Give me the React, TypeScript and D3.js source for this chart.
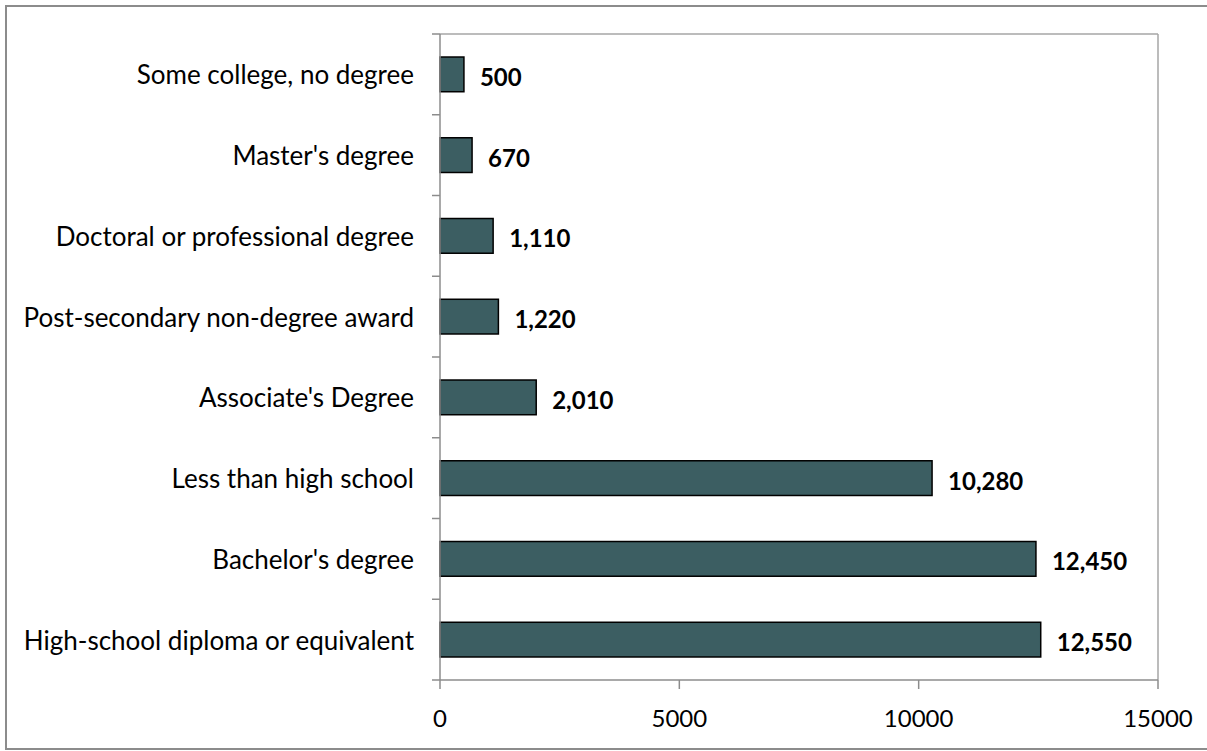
import React from "react";
import * as d3 from "d3";

const categories = [
  "Some college, no degree",
  "Master's degree",
  "Doctoral or professional degree",
  "Post-secondary non-degree award",
  "Associate's Degree",
  "Less than high school",
  "Bachelor's degree",
  "High-school diploma or equivalent",
];
const values = [500, 670, 1110, 1220, 2010, 10280, 12450, 12550];
const xTicks = [0, 5000, 10000, 15000];

const W = 1207;
const H = 751;
const left = 440;
const right = 1158;
const top = 34;
const bottom = 680;
const FONT = "Lato, 'Open Sans', sans-serif";

export default function App() {
  const x = d3.scaleLinear().domain([0, 15000]).range([left, right]);
  const y = d3
    .scaleBand<string>()
    .domain(categories)
    .range([top, bottom])
    .paddingInner(0.57)
    .paddingOuter(0.285);
  const band = (bottom - top) / categories.length;
  const fmt = d3.format(",");
  const axisColor = "#8c8c8c";

  return (
    <svg
      width={W}
      height={H}
      style={{ position: "absolute", left: 0, top: 0, background: "#fff" }}
    >
      <rect x={6} y={6} width={1215} height={743} fill="#fff" stroke="#8c8c8c" strokeWidth={2} />
      {/* plot area border */}
      <line x1={left} x2={right} y1={top} y2={top} stroke="#a6a6a6" strokeWidth={1.5} />
      <line x1={right} x2={right} y1={top} y2={bottom} stroke="#a6a6a6" strokeWidth={1.5} />
      {/* bars */}
      {categories.map((c, i) => (
        <rect
          key={c}
          x={x(0)}
          y={y(c)!}
          width={x(values[i]) - x(0)}
          height={y.bandwidth()}
          fill="#3c5e62"
          stroke="#000"
          strokeWidth={1.5}
        />
      ))}
      {/* y axis */}
      <line x1={left} x2={left} y1={top} y2={bottom} stroke={axisColor} strokeWidth={1.5} />
      {d3.range(categories.length + 1).map((i) => (
        <line
          key={"yt" + i}
          x1={left - 8}
          x2={left}
          y1={top + i * band}
          y2={top + i * band}
          stroke={axisColor}
          strokeWidth={1.5}
        />
      ))}
      {/* x axis */}
      <line x1={left} x2={right} y1={bottom} y2={bottom} stroke={axisColor} strokeWidth={1.5} />
      {xTicks.map((t) => (
        <g key={"xt" + t}>
          <line x1={x(t)} x2={x(t)} y1={bottom} y2={bottom + 9} stroke={axisColor} strokeWidth={1.5} />
          <text
            x={x(t)}
            y={717}
            textAnchor="middle"
            dominantBaseline="central"
            fontFamily={FONT}
            fontSize={24}
            fill="#000"
          >
            {t}
          </text>
        </g>
      ))}
      {/* category labels */}
      {categories.map((c) => (
        <text
          key={"cl" + c}
          x={left - 26}
          y={y(c)! + y.bandwidth() / 2}
          textAnchor="end"
          dominantBaseline="central"
          fontFamily={FONT}
          fontSize={26}
          fill="#000"
        >
          {c}
        </text>
      ))}
      {/* value labels */}
      {categories.map((c, i) => (
        <text
          key={"vl" + c}
          x={x(values[i]) + 16}
          y={y(c)! + y.bandwidth() / 2 + 2}
          textAnchor="start"
          dominantBaseline="central"
          fontFamily={FONT}
          fontWeight="bold"
          fontSize={24}
          fill="#000"
        >
          {fmt(values[i])}
        </text>
      ))}
    </svg>
  );
}
